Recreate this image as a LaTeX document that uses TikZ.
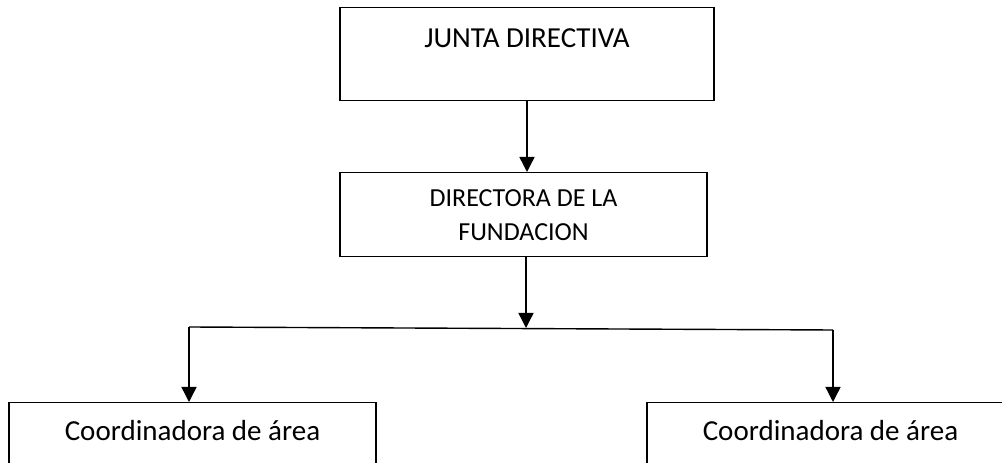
\documentclass[tikz,border=0pt]{standalone}
\usepackage{fontspec}
\setmainfont{Carlito}
\usetikzlibrary{arrows.meta}

\tikzset{
  box/.style={draw, line width=1.4pt, inner sep=0pt, rectangle},
  arr/.style={line width=1.4pt, -{Triangle[width=15pt,length=15pt]}},
}

\begin{document}
\begin{tikzpicture}[x=1pt, y=1pt]

  \newcommand\bigtext{\fontsize{29}{34}\selectfont}
  \newcommand\midtext{\fontsize{26}{34}\selectfont}

  \useasboundingbox (0,0) rectangle (1002,463);

  \node[box, anchor=north, minimum width=374pt, text height=40pt, text depth=53pt, font=\bigtext]
    (junta) at (527,456) {JUNTA DIRECTIVA};
  \node[box, anchor=north, minimum width=367pt, minimum height=84pt, align=center, font=\midtext]
    (directora) at (523.5,291) {DIRECTORA DE LA\\FUNDACION};
  \node[box, anchor=north, minimum width=367pt, text height=38pt, text depth=30pt, font=\bigtext]
    (coordA) at (192.5,61) {Coordinadora de área};
  % right box runs past the page edge
  \node[box, anchor=north, minimum width=367pt, text height=38pt, text depth=30pt, font=\bigtext]
    (coordB) at (830.5,61) {Coordinadora de área};

  \coordinate (splitL) at (189,136);
  \coordinate (splitM) at (526,135);
  \coordinate (splitR) at (833,133);

  \draw[arr] (junta.south) -- (junta.south |- directora.north); %% junta->directora
  \draw[arr] (directora.south -| splitM) -- (splitM); %% directora->split
  \draw[line width=1.4pt] (splitL) -- (splitR);
  \draw[arr] (splitL) -- (splitL |- coordA.north); %% split->coordA
  \draw[arr] (splitR) -- (splitR |- coordB.north); %% split->coordB
\end{tikzpicture}
\end{document}
